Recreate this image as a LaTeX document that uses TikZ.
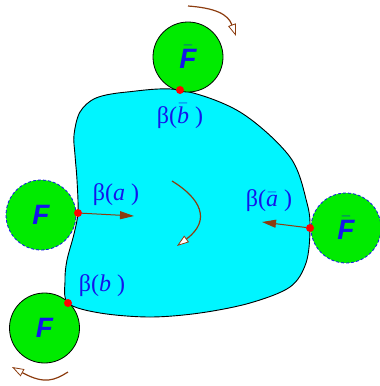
\documentclass[tikz,border=0pt]{standalone}
\usepackage{fontspec}
\setmainfont{Liberation Serif}
\setsansfont{Liberation Sans}
\usetikzlibrary{arrows.meta}
\definecolor{brn}{RGB}{140,60,15}
\definecolor{lblue}{RGB}{20,20,235}
\definecolor{grn}{RGB}{0,235,0}
\definecolor{aqua}{RGB}{0,245,255}
\tikzset{
  disc/.style={circle, fill=grn, minimum size=70pt, inner sep=0pt},
  solidrim/.style={draw=black, line width=0.8pt},
  dashrim/.style={draw=lblue, dashed, dash pattern=on 3pt off 2pt, line width=0.8pt},
  dot/.style={circle, fill=red, minimum size=8pt, inner sep=0pt},
  flab/.style={text=lblue, font=\sffamily\bfseries\itshape\fontsize{28}{30}\selectfont},
  blab/.style={text=lblue, font=\fontsize{24}{26}\selectfont, inner sep=0pt},
  farrow/.style={draw=brn, line width=1pt, -{Triangle[length=14pt, width=8pt, fill=brn]}},
  rot/.style={draw=brn, line width=1.2pt, -{Triangle[length=12pt, width=8pt, fill=white, line width=0.8pt]}}
}
\newcommand{\barF}{\ensuremath{\bar{\mbox{\sffamily\bfseries\itshape F}}}}
\newcommand{\barit}[1]{\ensuremath{\bar{\mbox{\itshape #1}}}}
\begin{document}
\begin{tikzpicture}[x=1pt,y=-1pt]
\useasboundingbox (0,0) rectangle (380,386);
\draw[fill=aqua, line width=0.9pt] plot[smooth cycle, tension=0.55] coordinates {
 (74,135) (80,112) (96,98) (127,92) (180,90) (240,112) (290,157) (307,203) (310,230)
 (306,263) (290,287) (250,303) (200,313) (150,317) (100,313) (68,303)
 (65,280) (67,260) (74,234) (78,212) (77,180) (75,155)};
\node[disc, solidrim] (ctop) at (188,57) {};
\node[disc, dashrim] (cleft) at (41,215) {};
\node[disc, dashrim] (cright) at (346,228) {};
\node[disc, solidrim] (cbot) at (44.5,328) {};
\node[flab] (ftop) at (ctop) {\barF};
\node[flab] (fleft) at (cleft) {F};
\node[flab] (fright) at (cright) {\barF};
\node[flab] (fbot) at (cbot) {F};
\node[dot] (dtop) at (180,90) {};
\node[dot] (dleft) at (78,213) {};
\node[dot] (dright) at (310,228) {};
\node[dot] (dbot) at (68,303) {};
\coordinate (aleft) at (134,216);
\coordinate (aright) at (262,222);
\draw[farrow] (dleft) -- (aleft);
\draw[farrow] (dright) -- (aright);
\node[blab] (lbtop) at (180,116) {β(\barit{b} )};
\node[blab] (lbleft) at (116,195) {β(\textit{a} )};
\node[blab] (lbright) at (269,201) {β(\barit{a} )};
\node[blab] (lbbot) at (102,286) {β(\textit{b} )};
\coordinate (r1s) at (188,6);
\coordinate (r1e) at (236,36);
\draw[rot] (r1s) .. controls (215,8) and (228,14) .. (r1e);
\coordinate (r2s) at (172,181);
\coordinate (r2e) at (177,246);
\draw[rot] (r2s) .. controls (200,198) and (212,220) .. (r2e);
\coordinate (r3s) at (68,372);
\coordinate (r3e) at (12,367);
\draw[rot] (r3s) .. controls (55,380) and (45,385) .. (r3e);
\end{tikzpicture}
\end{document}
